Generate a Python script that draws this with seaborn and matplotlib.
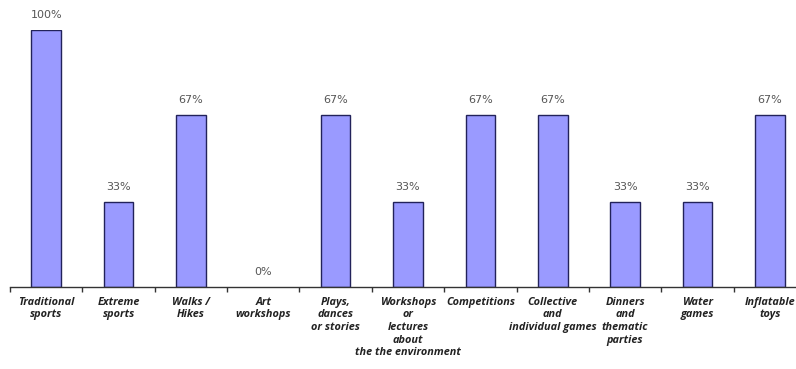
import matplotlib
matplotlib.use("Agg")
import matplotlib.pyplot as plt
import seaborn as sns
import pandas as pd
import numpy as np

categories = [
    "Traditional\nsports",
    "Extreme\nsports",
    "Walks /\nHikes",
    "Art\nworkshops",
    "Plays,\ndances\nor stories",
    "Workshops\nor\nlectures\nabout\nthe the environment",
    "Competitions",
    "Collective\nand\nindividual games",
    "Dinners\nand\nthematic\nparties",
    "Water\ngames",
    "Inflatable\ntoys",
]
values = [100, 33, 67, 0, 67, 33, 67, 67, 33, 33, 67]
value_labels = ["100%", "33%", "67%", "0%", "67%", "33%", "67%", "67%", "33%", "33%", "67%"]

df = pd.DataFrame({"category": categories, "value": values})

sns.set_style("white")
plt.rcParams['font.family'] = ['Open Sans', 'DejaVu Sans']

fig = plt.figure(figsize=(7.96, 3.69), dpi=100)
ax = fig.add_axes([10/796, (369-287)/369, 796/796, 257/369])

sns.barplot(data=df, x="category", y="value", color="#9a9aff", saturation=1,
            edgecolor="#22225a", linewidth=1.0, width=0.41, ax=ax)

for p, v in zip(ax.patches, values):
    if v == 0:
        p.set_linewidth(0)

ax.set_xlim(-0.5, len(categories) - 0.5)
ax.set_ylim(0, 100)

for c in ax.containers:
    ax.bar_label(c, labels=value_labels, padding=7, fontsize=8,
                 color="#555555", family="DejaVu Sans", clip_on=False)

for s in ["top", "left", "right"]:
    ax.spines[s].set_visible(False)
ax.spines["bottom"].set_color("#333333")
ax.spines["bottom"].set_linewidth(1.0)

ax.set_yticks([])
ax.set_xlabel("")
ax.set_ylabel("")
ax.set_xticks(range(len(categories)))
ax.set_xticklabels(categories, fontsize=7.8, fontweight="bold", style="italic",
                   color="#222222", linespacing=1.2, va="top")
ax.tick_params(axis="x", which="major", length=0, pad=7)
ax.set_xticks(np.arange(-0.5, len(categories), 1.0), minor=True)
ax.tick_params(axis="x", which="minor", bottom=True, length=3.5, width=1, color="#333333")

fig.savefig("out.png", dpi=100)
